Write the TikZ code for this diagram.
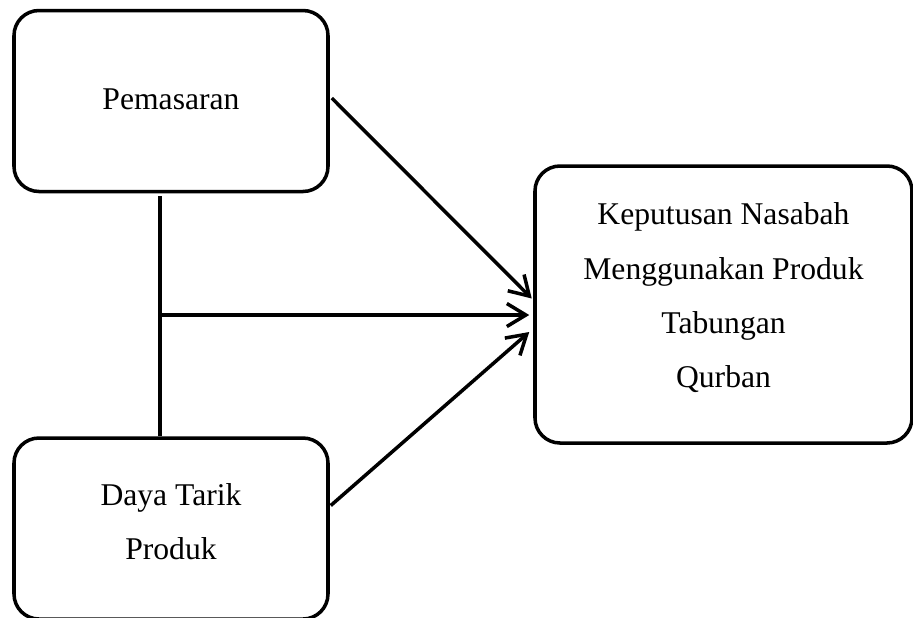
\documentclass[tikz,border=0pt]{standalone}
\usepackage{fontspec}
\setmainfont{Liberation Serif}
\usetikzlibrary{arrows.meta, positioning, calc}
\tikzset{%
	var/.style={draw, rectangle, line width=2pt, rounded corners=0.5cm,%
		minimum width=6.28cm, minimum height=3.62cm, align=center,%
		font=\fontsize{18}{31}\selectfont},
	res/.style={var, minimum width=7.54cm, minimum height=5.54cm},
	connector/.style={line width=2pt},
	sel/.style={connector, -{Straight Barb[length=0.38cm, width=0.46cm, line width=2pt]}}
}
\begin{document}
\begin{tikzpicture}
	\useasboundingbox (0,0) rectangle (18.26,-12.34);
	\node[var] (pem) at (3.42,-2.02) {\raisebox{0.06cm}{Pemasaran}};
	\node[var, below=4.86cm of pem] (daya) {Daya Tarik\\Produk\\[-0.8cm]};
	\node[res] (kep) at (14.47,-6.09) {Keputusan Nasabah\\Menggunakan Produk\\Tabungan\\Qurban\\[-0.72cm]};
	\coordinate (mid) at ([xshift=-0.22cm]pem.south |- 0,-6.3);

	\draw[connector] ([xshift=-0.22cm,yshift=-0.06cm]pem.south) to ([xshift=-0.22cm]daya.north);
	\draw[sel] (mid) to ([yshift=-0.21cm,xshift=-0.08cm]kep.west);
	\draw[sel] ([yshift=0.06cm,xshift=0.04cm]pem.east) to ([yshift=0.12cm,xshift=-0.03cm]kep.west);
	\draw[sel] ([yshift=0.46cm,xshift=0.02cm]daya.east) to ([yshift=-0.55cm,xshift=-0.08cm]kep.west);
\end{tikzpicture}
\end{document}
